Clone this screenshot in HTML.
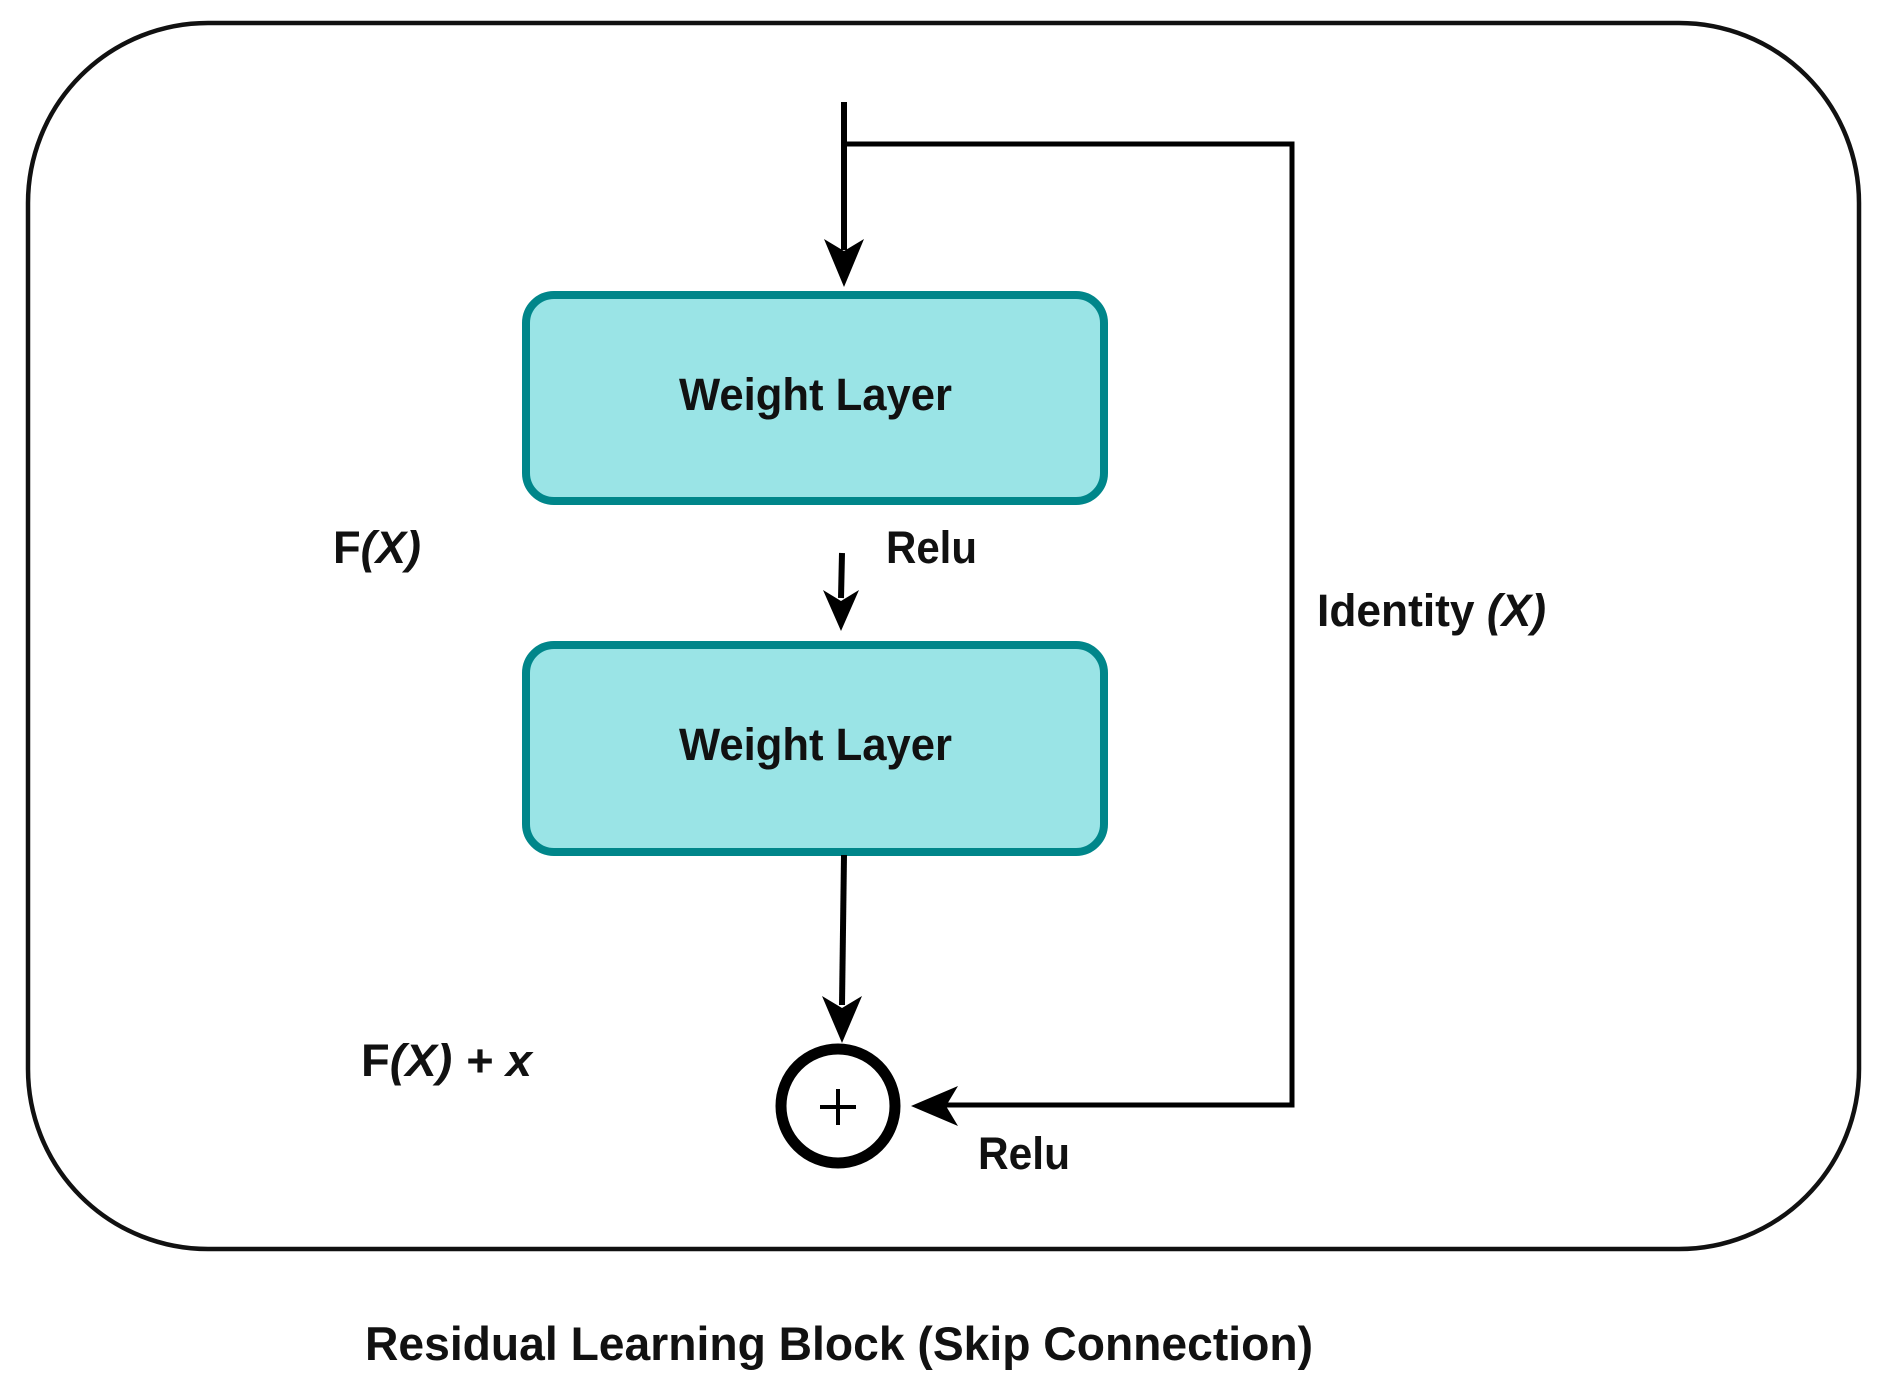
<!DOCTYPE html>
<html><head><meta charset="utf-8"><style>
html,body{margin:0;padding:0;background:#fff}
svg{display:block}
text{font-family:"Liberation Sans",Arial,sans-serif;font-weight:bold;fill:#111}
</style></head><body>
<svg width="1885" height="1391" viewBox="0 0 1885 1391" xmlns="http://www.w3.org/2000/svg">
<rect x="28" y="23" width="1831" height="1226" rx="180" ry="180" fill="#fff" stroke="#111" stroke-width="4.5"/>
<line x1="844" y1="102" x2="844" y2="250" stroke="#000" stroke-width="6"/>
<path d="M844 287 L824 239 L844 251 L864 239 Z" fill="#000"/>
<polyline points="844,144 1292,144 1292,1105 945,1105" fill="none" stroke="#000" stroke-width="5"/>
<path d="M911 1106 L958 1086 L946 1106 L958 1126 Z" fill="#000"/>
<rect x="526" y="295" width="578" height="206" rx="28" fill="#9ae4e6" stroke="#00868a" stroke-width="8"/>
<text x="679" y="410" textLength="273" lengthAdjust="spacingAndGlyphs" font-size="45">Weight Layer</text>
<line x1="842" y1="553" x2="841" y2="598" stroke="#000" stroke-width="6"/>
<path d="M841 631 L823 590 L841 601 L859 590 Z" fill="#000"/>
<text x="886" y="563" textLength="91" lengthAdjust="spacingAndGlyphs" font-size="45">Relu</text>
<rect x="526" y="645" width="578" height="207" rx="28" fill="#9ae4e6" stroke="#00868a" stroke-width="8"/>
<text x="679" y="760" textLength="273" lengthAdjust="spacingAndGlyphs" font-size="45">Weight Layer</text>
<line x1="844" y1="855" x2="842" y2="1005" stroke="#000" stroke-width="6"/>
<path d="M842 1043 L822 996 L842 1008 L862 996 Z" fill="#000"/>
<circle cx="838" cy="1106" r="57" fill="#fff" stroke="#000" stroke-width="11"/>
<line x1="820" y1="1107" x2="856" y2="1107" stroke="#000" stroke-width="4"/>
<line x1="838" y1="1089" x2="838" y2="1125" stroke="#000" stroke-width="4"/>
<text x="333" y="563" textLength="88" lengthAdjust="spacingAndGlyphs" font-size="45">F<tspan font-style="italic">(X)</tspan></text>
<text x="1317" y="626" textLength="229" lengthAdjust="spacingAndGlyphs" font-size="45">Identity <tspan font-style="italic">(X)</tspan></text>
<text x="361" y="1076" textLength="171" lengthAdjust="spacingAndGlyphs" font-size="45">F<tspan font-style="italic">(X)</tspan>  <tspan font-style="italic">+ x</tspan></text>
<text x="978" y="1169" textLength="92" lengthAdjust="spacingAndGlyphs" font-size="45">Relu</text>
<text x="365" y="1360" textLength="948" lengthAdjust="spacingAndGlyphs" font-size="47">Residual Learning Block (Skip Connection)</text>
</svg>
</body></html>
